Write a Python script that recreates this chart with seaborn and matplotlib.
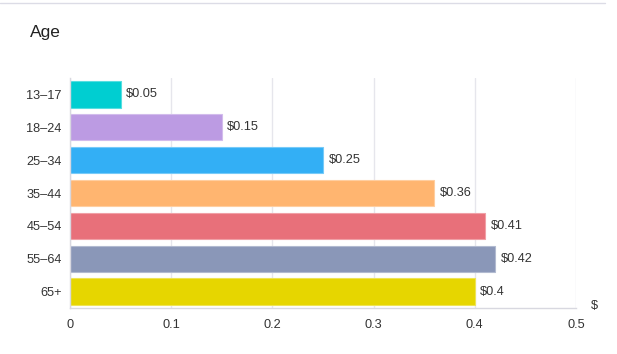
import matplotlib
matplotlib.use("Agg")
import matplotlib.pyplot as plt
import seaborn as sns
import pandas as pd
import numpy as np

ages = ["13\u201317", "18\u201324", "25\u201334", "35\u201344", "45\u201354", "55\u201364", "65+"]
values = [0.05, 0.15, 0.25, 0.36, 0.41, 0.42, 0.40]
colors = ["#00CED1", "#BC9BE3", "#33AFF5", "#FFB570", "#E8707A", "#8A97B8", "#E6D600"]
x_ticks = [0, 0.1, 0.2, 0.3, 0.4, 0.5]

sns.set_style("white")
plt.rcParams['font.family'] = ['Liberation Sans', 'DejaVu Sans']

df = pd.DataFrame({"age": ages, "value": values})

fig = plt.figure(figsize=(6.17, 3.54), dpi=100)
ax = fig.add_axes([70 / 617, 1 - 308 / 354, 506 / 617, 230 / 354])

sns.barplot(data=df, y="age", x="value", hue="age", palette=colors,
            order=ages, hue_order=ages, width=0.8, legend=False,
            orient="h", ax=ax, linewidth=0.8, edgecolor="white", saturation=1)

# thin lighter edge like the reference
for patch, c in zip(ax.patches, colors):
    patch.set_edgecolor(sns.blend_palette([c, "white"], 4)[1])

for cont in ax.containers:
    ax.bar_label(cont, labels=[f"${v:g}" for v in cont.datavalues],
                 padding=4, fontsize=9.2, color="#333333")

ax.set_xlim(0, 0.5)
ax.set_ylim(len(ages) - 0.5, -0.5)
ax.set_xticks(x_ticks)
ax.set_xticklabels([f"{t:g}" for t in x_ticks])
ax.set_yticks(range(len(ages)))
ax.set_yticks(np.arange(-0.5, len(ages)), minor=True)
ax.tick_params(axis="y", which="major", length=0, pad=6, labelsize=9.2, labelcolor="#333333")
ax.tick_params(axis="y", which="minor", length=5, color="#d8d8e0")
ax.tick_params(axis="x", length=5, color="#d8d8e0", labelsize=9.2, labelcolor="#333333", pad=3)
ax.set_xlabel("")
ax.set_ylabel("")
ax.grid(axis="x", color="#e6e6ec", linewidth=1)
ax.set_axisbelow(True)
for s in ["top", "right"]:
    ax.spines[s].set_visible(False)
for s in ["left", "bottom"]:
    ax.spines[s].set_color("#d8d8e0")
    ax.spines[s].set_linewidth(1)

ax.text(1.03, 0.01, "$", transform=ax.transAxes, fontsize=9.2, color="#333333",
        ha="left", va="center")
fig.text(30 / 617, 1 - 32 / 354, "Age", fontsize=12.5, color="#222222", va="center")
fig.add_artist(plt.Line2D([0, 605 / 617], [1 - 2.5 / 354] * 2, color="#dcdce6", linewidth=1))

fig.savefig("out.png", dpi=100)
